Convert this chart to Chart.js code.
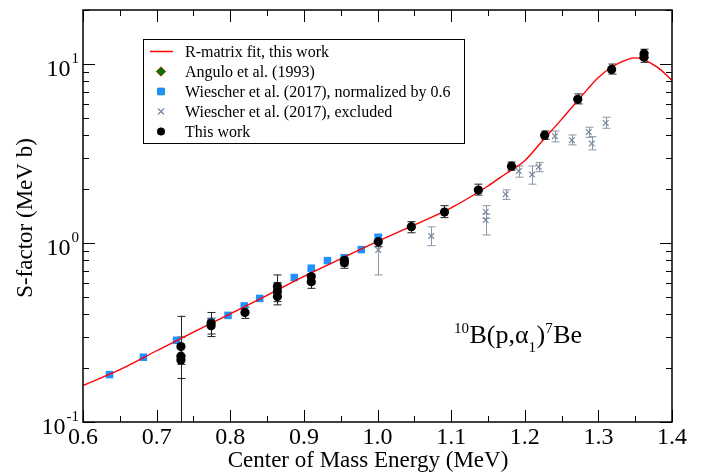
<!DOCTYPE html>
<html>
<head>
<meta charset="utf-8">
<script src="https://cdn.jsdelivr.net/npm/chart.js@4.4.0/dist/chart.umd.min.js"></script>
<style>
html, body { margin: 0; padding: 0; background: #fff; }
#wrap { width: 704px; height: 472px; }
</style>
</head>
<body>
<div id="wrap"><canvas id="chart"></canvas></div>
<script>
// R-matrix fit
const fitE = [0.60, 0.65, 0.70, 0.75, 0.80, 0.85, 0.90, 0.95, 1.00, 1.05, 1.10, 1.15, 1.175, 1.20, 1.225, 1.25, 1.275, 1.30, 1.32, 1.34, 1.35, 1.36, 1.38, 1.40];
const fitS = [0.160, 0.196, 0.250, 0.318, 0.402, 0.510, 0.650, 0.815, 1.02, 1.26, 1.57, 2.08, 2.45, 2.88, 3.76, 4.90, 6.45, 8.40, 9.70, 10.6, 10.8, 10.6, 9.6, 8.1];

// Angulo et al. (1993) - no points visible, legend only
const anguloE = [];
const anguloS = [];

// Wiescher et al. (2017), normalized by 0.6
const wiesE = [0.636, 0.682, 0.727, 0.774, 0.797, 0.819, 0.840, 0.887, 0.910, 0.932, 0.955, 0.978, 1.001];
const wiesS = [0.184, 0.230, 0.286, 0.362, 0.394, 0.445, 0.490, 0.641, 0.723, 0.797, 0.825, 0.918, 1.076];

// Wiescher et al. (2017), excluded
const exclE = [1.001, 1.073, 1.147, 1.147, 1.174, 1.192, 1.210, 1.219, 1.241, 1.264, 1.287, 1.291, 1.310];
const exclS = [0.914, 1.094, 1.494, 1.343, 1.868, 2.52, 2.41, 2.66, 3.95, 3.75, 4.17, 3.59, 4.68];
const exclLo = [0.663, 0.966, 1.37, 1.108, 1.75, 2.33, 2.13, 2.50, 3.67, 3.53, 3.89, 3.31, 4.37];
const exclHi = [1.04, 1.23, 1.615, 1.45, 1.98, 2.69, 2.69, 2.81, 4.22, 4.01, 4.43, 3.92, 5.04];

// This work
const workE = [0.733, 0.733, 0.733, 0.774, 0.774, 0.820, 0.864, 0.864, 0.864, 0.910, 0.910, 0.955, 0.955, 1.001, 1.046, 1.091, 1.137, 1.182, 1.227, 1.272, 1.318, 1.362, 1.362];
const workS = [0.264, 0.233, 0.222, 0.357, 0.345, 0.409, 0.571, 0.535, 0.502, 0.649, 0.608, 0.800, 0.775, 1.017, 1.233, 1.488, 1.973, 2.685, 4.00, 6.34, 9.31, 11.4, 10.9];
const workLo = [0.175, 0.05, 0.21, 0.30, 0.31, 0.379, 0.50, 0.47, 0.451, 0.59, 0.558, 0.745, 0.722, 0.953, 1.14, 1.385, 1.85, 2.55, 3.79, 5.98, 8.77, 10.8, 10.2];
const workHi = [0.298, 0.389, 0.235, 0.409, 0.38, 0.438, 0.663, 0.60, 0.55, 0.707, 0.66, 0.857, 0.83, 1.108, 1.315, 1.615, 2.13, 2.83, 4.22, 6.80, 9.98, 12.08, 11.6];

// axis ticks
const xTickLabels = ['0.6', '0.7', '0.8', '0.9', '1.0', '1.1', '1.2', '1.3', '1.4'];
const yTickValues = [0.1, 1, 10];
const yTickExps = ['-1', '0', '1'];

const legendLabels = [
    'R-matrix fit, this work',
    'Angulo et al. (1993)',
    'Wiescher et al. (2017), normalized by 0.6',
    'Wiescher et al. (2017), excluded',
    'This work'
];

const SERIF = '"Liberation Serif", "DejaVu Serif", serif';

function toPoints(xs, ys) {
    return xs.map((x, i) => ({ x: x, y: ys[i] }));
}

function line(ctx, x1, y1, x2, y2) {
    ctx.beginPath();
    ctx.moveTo(x1, y1);
    ctx.lineTo(x2, y2);
    ctx.stroke();
}

// error bars, frame, ticks, labels, legend, annotation
const decorPlugin = {
    id: 'decor',
    beforeDatasetsDraw(chart) {
        const ctx = chart.ctx;
        const a = chart.chartArea;
        const xs = chart.scales.x, ys = chart.scales.y;
        ctx.save();
        ctx.beginPath();
        ctx.rect(a.left, a.top, a.right - a.left, a.bottom - a.top);
        ctx.clip();
        chart.data.datasets.forEach(ds => {
            if (!ds.errLo) return;
            ctx.strokeStyle = ds.errColor;
            ctx.lineWidth = 1;
            ds.data.forEach((p, i) => {
                const px = Math.round(xs.getPixelForValue(p.x)) + 0.5;
                const yl = ys.getPixelForValue(ds.errLo[i]);
                const yh = ys.getPixelForValue(ds.errHi[i]);
                line(ctx, px, yl, px, yh);
                line(ctx, px - 4, yl, px + 4, yl);
                line(ctx, px - 4, yh, px + 4, yh);
            });
        });
        ctx.restore();
    },
    afterDraw(chart) {
        const ctx = chart.ctx;
        const a = chart.chartArea;
        const xs = chart.scales.x, ys = chart.scales.y;
        ctx.save();
        ctx.strokeStyle = '#000';
        ctx.fillStyle = '#000';

        // x ticks
        ctx.lineWidth = 1;
        for (let v = 0.6; v <= 1.4001; v += 0.05) {
            const major = Math.abs(Math.round(v * 10) - v * 10) < 1e-6;
            const len = major ? 12 : 6;
            const px = Math.round(xs.getPixelForValue(v)) + 0.5;
            line(ctx, px, a.bottom, px, a.bottom - len);
            line(ctx, px, a.top, px, a.top + len);
        }
        // y ticks
        yTickValues.forEach(dec => {
            for (let m = 1; m <= 9; m++) {
                const v = dec * m;
                if (v > 20.001) continue;
                const len = m === 1 ? 12 : 6;
                const py = Math.round(ys.getPixelForValue(v)) + 0.5;
                line(ctx, a.left, py, a.left + len, py);
                line(ctx, a.right, py, a.right - len, py);
            }
        });

        // frame
        ctx.lineWidth = 1.5;
        ctx.strokeRect(a.left, a.top, a.right - a.left, a.bottom - a.top);

        // x tick labels
        ctx.font = '24px ' + SERIF;
        ctx.textAlign = 'center';
        ctx.textBaseline = 'alphabetic';
        xTickLabels.forEach(t => {
            ctx.fillText(t, xs.getPixelForValue(parseFloat(t)), 444);
        });

        // y tick labels: 10^n
        ctx.textAlign = 'right';
        yTickValues.forEach((v, i) => {
            const py = ys.getPixelForValue(v);
            ctx.font = '15px ' + SERIF;
            const ew = ctx.measureText(yTickExps[i]).width;
            ctx.fillText(yTickExps[i], 79, py - 1);
            ctx.font = '24px ' + SERIF;
            ctx.fillText('10', 79 - ew - 1, py + 12);
        });

        // axis titles
        ctx.font = '23px ' + SERIF;
        ctx.textAlign = 'center';
        ctx.fillText('Center of Mass Energy (MeV)', 368, 467);
        ctx.save();
        ctx.translate(32, 218);
        ctx.rotate(-Math.PI / 2);
        ctx.fillText('S-factor (MeV b)', 0, 0);
        ctx.restore();

        // legend
        ctx.fillStyle = '#fff';
        ctx.fillRect(143.5, 39.5, 321, 104);
        ctx.lineWidth = 1;
        ctx.strokeStyle = '#000';
        ctx.strokeRect(143.5, 39.5, 321, 104);
        ctx.font = '16px ' + SERIF;
        ctx.textAlign = 'left';
        ctx.textBaseline = 'middle';
        legendLabels.forEach((t, i) => {
            const y = 51.5 + i * 20;
            const ds = chart.data.datasets[i];
            if (i === 0) {
                ctx.strokeStyle = ds.borderColor;
                ctx.lineWidth = 1.5;
                line(ctx, 150, y, 173, y);
            } else {
                Chart.helpers.drawPoint(ctx, {
                    pointStyle: ds.pointStyle,
                    radius: ds.legendRadius,
                    borderWidth: ds.pointBorderWidth || 1,
                    rotation: 0
                }, 161, y);
                ctx.fillStyle = ds.pointBackgroundColor;
                ctx.strokeStyle = ds.pointBorderColor;
                ctx.lineWidth = ds.pointBorderWidth || 1;
                ctx.beginPath();
                Chart.helpers.drawPoint(ctx, {
                    pointStyle: ds.pointStyle,
                    radius: ds.legendRadius,
                    borderWidth: ds.pointBorderWidth || 1,
                    rotation: 0
                }, 161, y);
            }
            ctx.fillStyle = '#000';
            ctx.fillText(t, 185, y + 1);
        });

        // reaction annotation 10B(p,a1)7Be
        ctx.textBaseline = 'alphabetic';
        ctx.textAlign = 'left';
        const parts = [
            ['10', 15, 333],
            ['B(p,\u03b1', 26, 343],
            ['1', 15, 352],
            [')', 26, 343],
            ['7', 15, 333],
            ['Be', 26, 343]
        ];
        let x = 454;
        parts.forEach(p => {
            ctx.font = p[1] + 'px ' + SERIF;
            ctx.fillText(p[0], x, p[2]);
            x += ctx.measureText(p[0]).width + (p[1] === 15 ? 0.5 : 0);
        });

        ctx.restore();
    }
};

const ctx = document.getElementById('chart').getContext('2d');
new Chart(ctx, {
    type: 'scatter',
    data: {
        datasets: [
            {
                label: legendLabels[0],
                type: 'line',
                data: toPoints(fitE, fitS),
                borderColor: '#ff0000',
                borderWidth: 1.4,
                pointRadius: 0,
                fill: false,
                cubicInterpolationMode: 'monotone',
                order: 2
            },
            {
                label: legendLabels[1],
                data: toPoints(anguloE, anguloS),
                pointStyle: 'rectRot',
                pointRadius: 4,
                legendRadius: 4,
                pointBackgroundColor: '#007800',
                pointBorderColor: '#007800',
                pointBorderWidth: 1,
                order: 5
            },
            {
                label: legendLabels[2],
                data: toPoints(wiesE, wiesS),
                pointStyle: 'rect',
                pointRadius: 5.3,
                legendRadius: 4.5,
                pointBackgroundColor: '#1e90ff',
                pointBorderColor: '#1e90ff',
                pointBorderWidth: 0,
                order: 4
            },
            {
                label: legendLabels[3],
                data: toPoints(exclE, exclS),
                errLo: exclLo,
                errHi: exclHi,
                errColor: '#8796a8',
                pointStyle: 'crossRot',
                pointRadius: 4,
                legendRadius: 4,
                pointBackgroundColor: '#7a889c',
                pointBorderColor: '#7a889c',
                pointBorderWidth: 1.2,
                order: 3
            },
            {
                label: legendLabels[4],
                data: toPoints(workE, workS),
                errLo: workLo,
                errHi: workHi,
                errColor: '#222',
                pointStyle: 'circle',
                pointRadius: 4.6,
                legendRadius: 3.5,
                pointBackgroundColor: '#000',
                pointBorderColor: '#000',
                pointBorderWidth: 0,
                order: 1
            }
        ]
    },
    options: {
        responsive: true,
        maintainAspectRatio: false,
        animation: false,
        events: [],
        layout: {
            padding: { top: 10, right: 32, bottom: 50, left: 83 }
        },
        scales: {
            x: { type: 'linear', min: 0.6, max: 1.4, display: false },
            y: { type: 'logarithmic', min: 0.1, max: 20, display: false }
        },
        plugins: {
            legend: { display: false },
            tooltip: { enabled: false }
        }
    },
    plugins: [decorPlugin]
});
</script>
</body>
</html>
